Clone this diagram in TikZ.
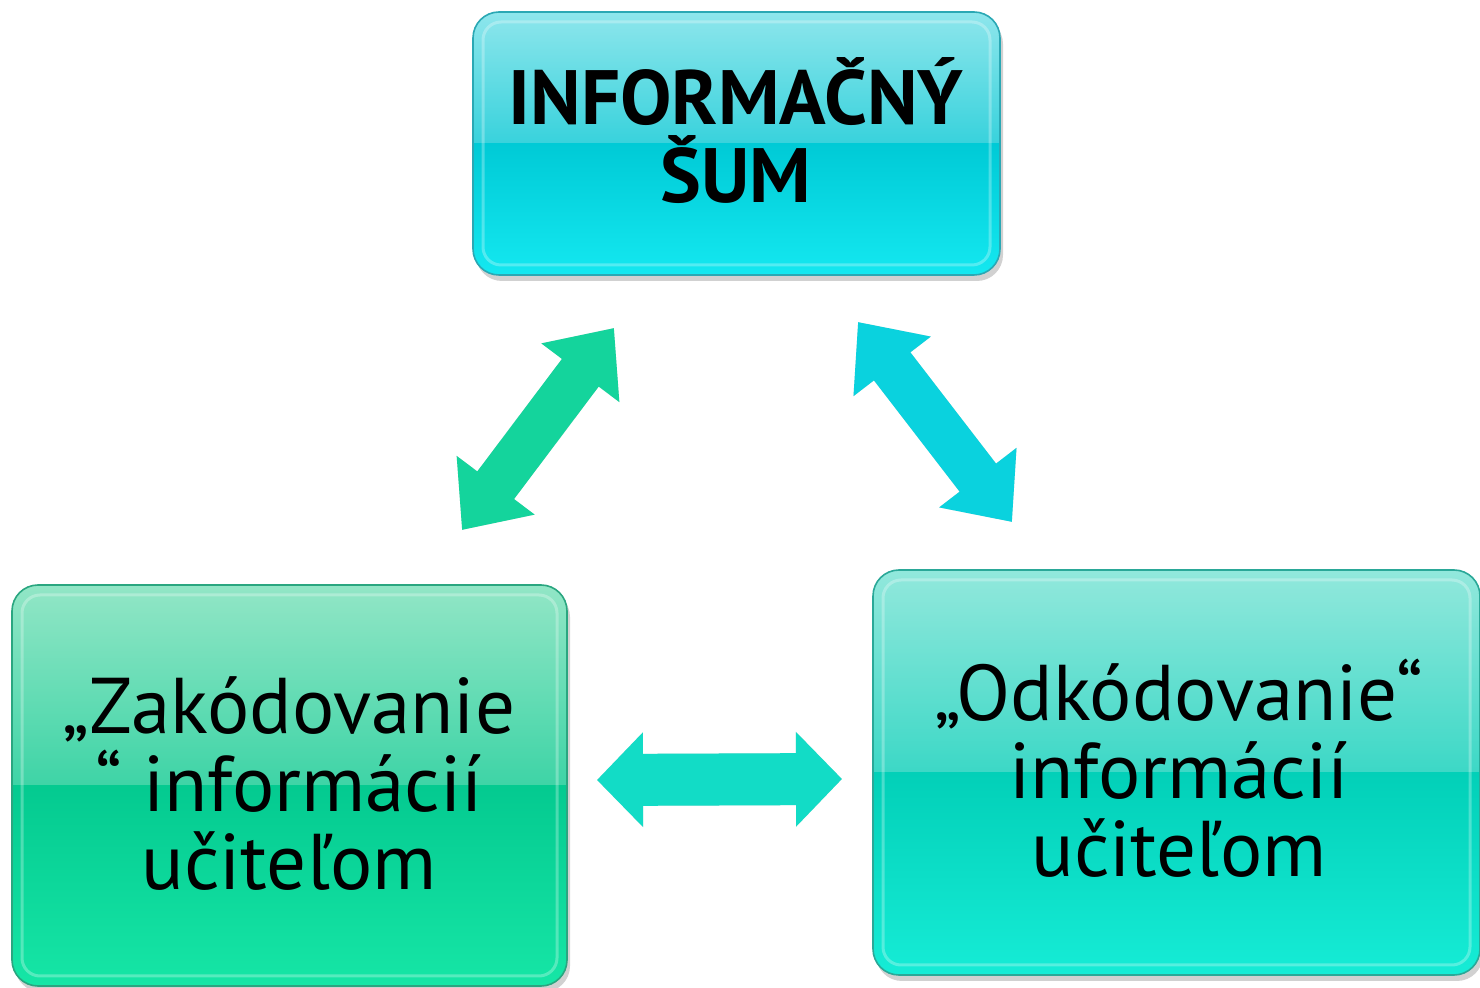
\documentclass[tikz,border=0pt]{standalone}
\usepackage{fontspec}
\setmainfont{PT Sans}
\usetikzlibrary{arrows.meta,calc}
% top box colours
\definecolor{topa}{HTML}{8EE6EC}\definecolor{topb}{HTML}{38D2DC}
\definecolor{topc}{HTML}{00CAD6}\definecolor{topd}{HTML}{14E8F0}\definecolor{tope}{HTML}{2AA8B4}
% left box colours
\definecolor{lefta}{HTML}{92E6C6}\definecolor{leftb}{HTML}{3ED4A6}
\definecolor{leftc}{HTML}{04CA90}\definecolor{leftd}{HTML}{16E6A6}\definecolor{lefte}{HTML}{2AA680}
% right box colours
\definecolor{righta}{HTML}{92E8DC}\definecolor{rightb}{HTML}{3CD8C6}
\definecolor{rightc}{HTML}{02D0B8}\definecolor{rightd}{HTML}{16ECD6}\definecolor{righte}{HTML}{2AA898}
% arrow colours
\definecolor{arrL}{HTML}{14D49C}\definecolor{arrR}{HTML}{0AD2DE}\definecolor{arrH}{HTML}{12DCC6}

\newcommand\glossbox[5]{%
  \pgfmathsetmacro\gbw{(#4-#2)*0.5}%
  \pgfmathsetmacro\gbh{(#5-#3)*0.5}%
  \node[minimum width=\gbw pt, minimum height=\gbh pt, inner sep=0pt, outer sep=0pt] (#1) at ({(#2+#4)/2},{(#3+#5)/2}) {};
  \fill[black,opacity=.18,rounded corners=13pt] ([xshift=1.5pt,yshift=-3pt]#1.north west) rectangle ([xshift=1.5pt,yshift=-3pt]#1.south east);
  \begin{scope}
    \clip[rounded corners=13pt] (#1.north west) rectangle (#1.south east);
    \shade[top color=#1a,bottom color=#1b] (#1.north west) rectangle (#1.east);
    \shade[top color=#1c,bottom color=#1d] (#1.west) rectangle (#1.south east);
  \end{scope}
  \draw[white,opacity=.28,line width=1.5pt,rounded corners=9pt] ([shift={(5pt,-5pt)}]#1.north west) rectangle ([shift={(-5pt,5pt)}]#1.south east);
  \draw[#1e,line width=.8pt,rounded corners=13pt] (#1.north west) rectangle (#1.south east);
}

\tikzset{
  boxtext/.style={align=center, text=black, inner sep=0pt, font=\fontsize{39.5}{39}\selectfont},
  diagarrow/.style={line width=23pt, {Triangle[length=28pt,width=47pt]}-{Triangle[length=28pt,width=47pt]}},
  horarrow/.style={line width=26pt, {Triangle[length=23pt,width=46pt]}-{Triangle[length=23pt,width=46pt]}},
  arrshadow/.style={black, opacity=.15, xshift=1pt, yshift=-2.5pt},
}

\begin{document}
\begin{tikzpicture}[x=0.5pt,y=-0.5pt]
\useasboundingbox (0,0) rectangle (1480,988);

% boxes
\glossbox{top}{473}{12}{1000}{275}
\glossbox{left}{12}{585}{567}{986}
\glossbox{right}{873}{570}{1480}{975}

% texts
\node[boxtext, font=\fontsize{38.5}{39}\selectfont\bfseries] (topT) at (736,131) {INFORMAČNÝ\\ŠUM};
\node[boxtext] (leftT) at (289,784) {„Zakódovanie\\“ informácií\\učiteľom};
\node[boxtext] (rightT) at (1179,768) {„Odkódovanie“\\informácií\\učiteľom};

% arrow end points
\coordinate (la1) at (462,530);
\coordinate (la2) at (614,328);
\coordinate (ra1) at (858,322);
\coordinate (ra2) at (1012,522);
\coordinate (ha1) at (597,780);
\coordinate (ha2) at (842,779);

% arrow shadows
\draw[diagarrow, arrshadow] (la1) -- (la2);
\draw[diagarrow, arrshadow] (ra1) -- (ra2);
\draw[horarrow, arrshadow] (ha1) -- (ha2);

% arrows
\draw[diagarrow, arrL] (la1) -- (la2);
\draw[diagarrow, arrR] (ra1) -- (ra2);
\draw[horarrow, arrH] (ha1) -- (ha2);
\end{tikzpicture}
\end{document}
